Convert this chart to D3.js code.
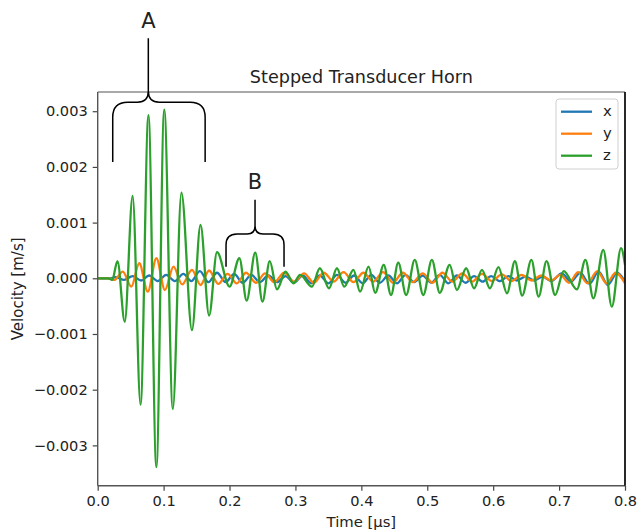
<!DOCTYPE html>
<html>
<head>
<meta charset="utf-8">
<script src="https://cdn.jsdelivr.net/npm/d3@7"></script>
<style>
  body { margin: 0; background: #fff; }
  svg text { font-family: "DejaVu Sans", sans-serif; fill: #222; }
</style>
</head>
<body>
<svg id="chart" width="639" height="530"></svg>
<script>
// values: [time in µs, velocity in m/s] at each turning point
var seriesX = [
  [0, 0], [0.018, 0], [0.027, 0.00002], [0.040, -0.00003], [0.053, 0.00004], [0.066, -0.00004],
  [0.078, 0.00005], [0.091, -0.00005], [0.104, 0.00006], [0.117, -0.00005], [0.130, 0.00008],
  [0.142, -0.00005], [0.155, 0.00013], [0.168, -0.00007], [0.181, 0.00010], [0.194, -0.00007],
  [0.207, 0.00008], [0.220, -0.00008], [0.233, 0.00006], [0.246, -0.00007], [0.259, 0.00005],
  [0.272, -0.00007], [0.285, 0.00004], [0.298, -0.00008], [0.311, 0.00005], [0.324, -0.00009],
  [0.337, 0.00005], [0.350, -0.00009], [0.363, 0.00006], [0.376, -0.00008], [0.389, 0.00005],
  [0.402, -0.00009], [0.415, 0.00006], [0.428, -0.00008], [0.441, 0.00005], [0.454, -0.00009],
  [0.467, 0.00006], [0.480, -0.00007], [0.493, 0.00005], [0.506, -0.00008], [0.519, 0.00006],
  [0.532, -0.00009], [0.545, 0.00005], [0.558, -0.00008], [0.571, 0.00004], [0.584, -0.00006],
  [0.597, 0.00004], [0.610, -0.00005], [0.623, 0.00004], [0.636, -0.00004], [0.649, 0.00003],
  [0.662, -0.00004], [0.675, 0.00003], [0.688, -0.00005], [0.704, 0.00009], [0.718, -0.00006],
  [0.732, 0.00010], [0.746, -0.00010], [0.760, 0.00012], [0.774, -0.00012], [0.788, 0.00010],
  [0.800, -0.00006]
];

var seriesY = [
  [0, 0], [0.016, 0], [0.025, -0.00003], [0.038, 0.00012], [0.051, -0.00015], [0.063, 0.00027],
  [0.076, -0.00024], [0.089, 0.00036], [0.102, -0.00021], [0.115, 0.00021], [0.128, -0.00011],
  [0.143, 0.00015], [0.156, -0.00012], [0.169, 0.00014], [0.183, -0.00010], [0.197, 0.00008],
  [0.211, -0.00009], [0.225, 0.00010], [0.240, -0.00008], [0.254, 0.00009], [0.268, -0.00007],
  [0.283, 0.00010], [0.298, -0.00006], [0.313, 0.00009], [0.328, -0.00008], [0.343, 0.00010],
  [0.358, -0.00006], [0.373, 0.00011], [0.388, -0.00007], [0.403, 0.00010], [0.418, -0.00006],
  [0.433, 0.00011], [0.448, -0.00008], [0.463, 0.00010], [0.478, -0.00007], [0.493, 0.00009],
  [0.508, -0.00008], [0.523, 0.00010], [0.538, -0.00006], [0.553, 0.00009], [0.568, -0.00006],
  [0.583, 0.00008], [0.598, -0.00005], [0.613, 0.00007], [0.628, -0.00005], [0.643, 0.00006],
  [0.658, -0.00004], [0.673, 0.00005], [0.688, -0.00004], [0.702, 0.00006], [0.715, -0.00008],
  [0.729, 0.00011], [0.743, -0.00009], [0.758, 0.00013], [0.772, -0.00009], [0.786, 0.00010],
  [0.800, -0.00009]
];

var seriesZ = [
  [0, 0], [0.016, 0], [0.022, -0.00003], [0.030, 0.00031], [0.041, -0.00078], [0.053, 0.00148],
  [0.065, -0.00227], [0.077, 0.00293], [0.089, -0.00339], [0.101, 0.00303], [0.114, -0.00235],
  [0.127, 0.00154], [0.143, -0.00093], [0.156, 0.00096], [0.169, -0.00067], [0.181, 0.00047],
  [0.200, -0.00015], [0.215, 0.00036], [0.226, -0.00040], [0.239, 0.00046], [0.250, -0.00042],
  [0.261, 0.00031], [0.272, -0.00020], [0.285, 0.00012], [0.297, -0.00009], [0.307, 0.00006],
  [0.325, -0.00015], [0.337, 0.00018], [0.351, -0.00018], [0.363, 0.00018], [0.374, -0.00015],
  [0.388, 0.00015], [0.398, -0.00024], [0.411, 0.00021], [0.421, -0.00026], [0.434, 0.00024],
  [0.445, -0.00030], [0.456, 0.00028], [0.468, -0.00030], [0.481, 0.00033], [0.494, -0.00030],
  [0.507, 0.00033], [0.519, -0.00026], [0.534, 0.00024], [0.545, -0.00021], [0.559, 0.00018],
  [0.571, -0.00018], [0.583, 0.00015], [0.595, -0.00018], [0.608, 0.00020], [0.621, -0.00027],
  [0.633, 0.00031], [0.644, -0.00031], [0.658, 0.00033], [0.669, -0.00033], [0.681, 0.00031],
  [0.694, -0.00030], [0.707, 0.00013], [0.727, -0.00020], [0.740, 0.00033], [0.752, -0.00036],
  [0.767, 0.00051], [0.780, -0.00051], [0.794, 0.00054], [0.800, 0.00024]
];

var seriesNames = ['x', 'y', 'z'];
var seriesColors = ['#1f77b4', '#ff7f0e', '#2ca02c'];
var xTicks = [0, 0.1, 0.2, 0.3, 0.4, 0.5, 0.6, 0.7, 0.8];
var yTicks = [-0.003, -0.002, -0.001, 0, 0.001, 0.002, 0.003];

// brackets drawn over the plot: span in time, heights in velocity units
var brackets = [
  {label: 'A', t0: 0.0228, t1: 0.163, tc: 0.0768, vBar: 0.00316, vLeg: 0.00209, vTop: 0.00431, vText: 0.00449, r: 15, r2: 11},
  {label: 'B', t0: 0.1947, t1: 0.2827, tc: 0.2387, vBar: 0.000795, vLeg: 0.000208, vTop: 0.00141, vText: 0.00161, r: 11, r2: 8}
];

var svg = d3.select('#chart');
var pLeft = 97.7, pRight = 625, pTop = 92, pBottom = 485.7;

var x = d3.scaleLinear().domain([0, 0.8]).range([pLeft, pRight]);
var y = d3.scaleLinear().domain([-0.003724, 0.003345]).range([pBottom, pTop]);

svg.append('defs').append('clipPath').attr('id', 'plotclip')
  .append('rect').attr('x', pLeft).attr('y', pTop)
  .attr('width', pRight - pLeft).attr('height', pBottom - pTop);

// axes
var xAxis = d3.axisBottom(x).tickValues(xTicks).tickFormat(d3.format('.1f'))
  .tickSizeOuter(0).tickSize(5).tickPadding(5);
var yAxis = d3.axisLeft(y).tickValues(yTicks).tickFormat(d3.format('.3f'))
  .tickSizeOuter(0).tickSize(5).tickPadding(5);

var gx = svg.append('g').attr('transform', 'translate(0,' + pBottom + ')').call(xAxis);
var gy = svg.append('g').attr('transform', 'translate(' + pLeft + ',0)').call(yAxis);
[gx, gy].forEach(function (g) {
  g.select('.domain').remove();
  g.selectAll('.tick line').attr('stroke', '#444').attr('stroke-width', 1.2);
  g.selectAll('.tick text').style('font-size', '14.6px').attr('fill', '#222');
});

// lines
var line = d3.line()
  .x(function (d) { return x(d[0]); })
  .y(function (d) { return y(d[1]); })
  .curve(d3.curveMonotoneX);

var plot = svg.append('g').attr('clip-path', 'url(#plotclip)');
[seriesX, seriesY, seriesZ].forEach(function (s, i) {
  plot.append('path')
    .datum(s)
    .attr('fill', 'none')
    .attr('stroke', seriesColors[i])
    .attr('stroke-width', 2.3)
    .attr('stroke-linejoin', 'round')
    .attr('d', line);
});

// frame
svg.append('line').attr('x1', pLeft).attr('x2', pRight).attr('y1', pTop).attr('y2', pTop)
  .attr('stroke', '#555').attr('stroke-width', 1.2);
svg.append('line').attr('x1', pLeft).attr('x2', pRight).attr('y1', pBottom).attr('y2', pBottom)
  .attr('stroke', '#555').attr('stroke-width', 1.4);
svg.append('line').attr('x1', pLeft).attr('x2', pLeft).attr('y1', pTop).attr('y2', pBottom)
  .attr('stroke', '#555').attr('stroke-width', 1.4);
svg.append('line').attr('x1', pRight).attr('x2', pRight).attr('y1', pTop).attr('y2', pBottom)
  .attr('stroke', '#111').attr('stroke-width', 1.8);

// title and axis labels
svg.append('text').attr('x', (pLeft + pRight) / 2).attr('y', 83)
  .attr('text-anchor', 'middle').style('font-size', '17.6px')
  .text('Stepped Transducer Horn');
svg.append('text').attr('x', (pLeft + pRight) / 2).attr('y', 526.5)
  .attr('text-anchor', 'middle').style('font-size', '14.8px')
  .text('Time [µs]');
svg.append('text')
  .attr('transform', 'translate(23,' + ((pTop + pBottom) / 2) + ') rotate(-90)')
  .attr('text-anchor', 'middle').style('font-size', '15px')
  .text('Velocity [m/s]');

// legend
var lg = svg.append('g').attr('transform', 'translate(' + (pRight - 69) + ',' + (pTop + 7) + ')');
lg.append('rect').attr('width', 62).attr('height', 70).attr('rx', 3)
  .attr('fill', '#fff').attr('fill-opacity', 0.8)
  .attr('stroke', '#d0d0d0').attr('stroke-width', 1);
seriesNames.forEach(function (n, i) {
  var yy = 12.7 + i * 22;
  lg.append('line').attr('x1', 5).attr('x2', 36).attr('y1', yy).attr('y2', yy)
    .attr('stroke', seriesColors[i]).attr('stroke-width', 2.3);
  lg.append('text').attr('x', 47).attr('y', yy).attr('dy', '0.32em')
    .style('font-size', '14.8px').text(n);
});

// brackets A and B
brackets.forEach(function (b) {
  var x0 = x(b.t0), x1 = x(b.t1), xc = x(b.tc);
  var yb = y(b.vBar), yl = y(b.vLeg), yt = y(b.vTop);
  var r = b.r, r2 = b.r2;
  var p = d3.path();
  p.moveTo(x0, yl);
  p.lineTo(x0, yb + r);
  p.quadraticCurveTo(x0, yb, x0 + r, yb);
  p.lineTo(xc - r2, yb);
  p.quadraticCurveTo(xc, yb, xc, yb - r2);
  p.lineTo(xc, yt);
  p.moveTo(xc, yb - r2);
  p.quadraticCurveTo(xc, yb, xc + r2, yb);
  p.lineTo(x1 - r, yb);
  p.quadraticCurveTo(x1, yb, x1, yb + r);
  p.lineTo(x1, yl);
  svg.append('path').attr('d', p.toString())
    .attr('fill', 'none').attr('stroke', '#000').attr('stroke-width', 1.5);
  svg.append('text').attr('x', xc).attr('y', y(b.vText))
    .attr('text-anchor', 'middle').style('font-size', '21px').attr('fill', '#000')
    .text(b.label);
});
</script>
</body>
</html>
